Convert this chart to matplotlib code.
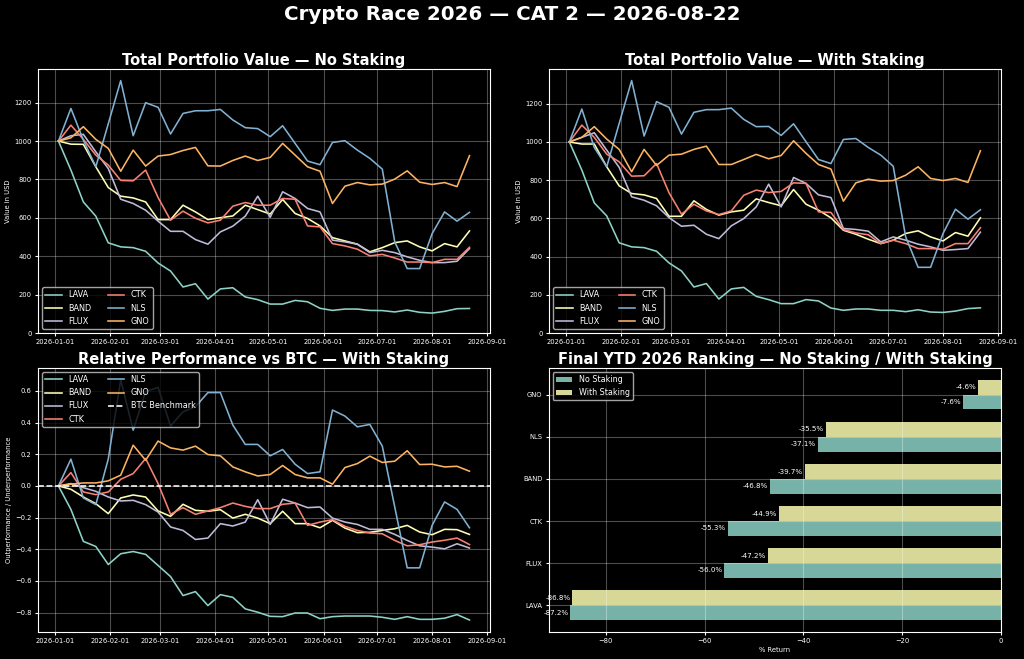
import numpy as np
import pandas as pd
import matplotlib
matplotlib.use("Agg")
import matplotlib.pyplot as plt
import matplotlib.dates as mdates

dates = pd.date_range("2026-01-03", periods=34, freq="7D")
coins = ["LAVA", "BAND", "FLUX", "CTK", "NLS", "GNO"]

# portfolio value, no staking
lava_ns = [1000, 849, 683, 609, 470, 449, 445, 426, 365, 323, 240, 257, 177, 230, 236, 188, 174,
           151, 151, 170, 163, 129, 118, 125, 125, 118, 117, 110, 120, 108, 104, 113, 127, 128]
band_ns = [1000, 984, 983, 866, 758, 713, 704, 683, 591, 591, 666, 631, 591, 601, 610, 666, 643,
           620, 696, 623, 597, 558, 497, 480, 463, 423, 445, 471, 480, 449, 428, 466, 449, 532]
flux_ns = [1000, 1028, 1035, 944, 857, 697, 675, 640, 583, 530, 530, 487, 463, 527, 557, 609, 713,
           603, 736, 701, 649, 631, 484, 475, 463, 419, 431, 419, 397, 379, 367, 367, 374, 440]
ctk_ns = [1000, 1083, 1009, 927, 875, 795, 793, 849, 706, 588, 635, 598, 574, 588, 661, 680, 666,
          666, 701, 697, 558, 553, 466, 454, 437, 402, 410, 391, 370, 370, 367, 384, 384, 447]
nls_ns = [1000, 1170, 1005, 866, 1090, 1315, 1028, 1200, 1176, 1037, 1144, 1158, 1158, 1165, 1110, 1070, 1065,
          1023, 1080, 988, 896, 877, 993, 1002, 953, 910, 854, 475, 336, 336, 518, 631, 583, 629]
gno_ns = [1000, 1017, 1075, 1009, 962, 843, 953, 870, 922, 930, 951, 967, 871, 870, 899, 922, 899,
          915, 988, 927, 866, 843, 675, 765, 784, 772, 776, 802, 845, 786, 774, 784, 763, 924]

# portfolio value, with staking
lava_ws = [1000, 853, 681, 613, 472, 451, 447, 428, 367, 325, 241, 259, 178, 231, 239, 192, 175,
           154, 154, 175, 168, 131, 119, 126, 126, 119, 119, 112, 122, 110, 108, 115, 128, 132]
band_ws = [1000, 989, 989, 870, 770, 730, 723, 704, 611, 611, 692, 647, 617, 634, 643, 702, 683,
           666, 751, 674, 643, 603, 538, 517, 491, 468, 486, 521, 535, 503, 482, 526, 507, 603]
flux_ws = [1000, 1024, 1048, 957, 867, 713, 695, 666, 604, 559, 564, 517, 494, 561, 599, 660, 779,
           660, 814, 783, 723, 709, 547, 542, 533, 477, 503, 486, 465, 451, 433, 437, 442, 528]
ctk_ws = [1000, 1088, 1024, 936, 896, 821, 823, 887, 734, 622, 674, 639, 620, 639, 721, 748, 735,
          741, 786, 783, 634, 631, 542, 524, 514, 468, 486, 468, 442, 442, 439, 468, 468, 551]
nls_ws = [1000, 1172, 971, 870, 1097, 1321, 1031, 1211, 1181, 1041, 1155, 1169, 1169, 1177, 1118, 1080, 1081,
          1034, 1095, 1001, 908, 887, 1013, 1018, 971, 931, 873, 503, 344, 344, 521, 648, 596, 645]
gno_ws = [1000, 1024, 1080, 1015, 961, 844, 961, 877, 931, 936, 961, 978, 882, 882, 908, 935, 912,
          929, 1006, 940, 882, 858, 690, 786, 805, 795, 798, 826, 870, 809, 798, 809, 788, 954]

# relative performance vs BTC (with staking)
lava_rel = [0, -0.148, -0.350, -0.382, -0.496, -0.428, -0.414, -0.432, -0.502, -0.572, -0.692, -0.667,
            -0.755, -0.686, -0.703, -0.776, -0.797, -0.823, -0.825, -0.802, -0.802, -0.838, -0.825,
            -0.821, -0.821, -0.821, -0.829, -0.842, -0.825, -0.842, -0.842, -0.835, -0.812, -0.846]
band_rel = [0, -0.021, -0.070, -0.112, -0.175, -0.076, -0.057, -0.070, -0.158, -0.192, -0.116, -0.154,
            -0.160, -0.150, -0.203, -0.179, -0.203, -0.238, -0.160, -0.238, -0.238, -0.264, -0.217,
            -0.266, -0.295, -0.293, -0.281, -0.270, -0.249, -0.291, -0.308, -0.274, -0.276, -0.306]
flux_rel = [0, 0.015, -0.011, -0.034, -0.070, -0.095, -0.091, -0.118, -0.165, -0.259, -0.281, -0.338,
            -0.329, -0.238, -0.253, -0.228, -0.087, -0.243, -0.084, -0.108, -0.137, -0.133, -0.203,
            -0.228, -0.243, -0.274, -0.274, -0.306, -0.344, -0.378, -0.386, -0.397, -0.365, -0.392]
ctk_rel = [0, 0.084, -0.038, -0.055, -0.038, 0.042, 0.078, 0.173, 0.015, -0.179, -0.137, -0.179,
           -0.158, -0.137, -0.108, -0.129, -0.143, -0.143, -0.116, -0.108, -0.249, -0.228, -0.213,
           -0.255, -0.281, -0.297, -0.302, -0.344, -0.378, -0.371, -0.354, -0.343, -0.329, -0.370]
nls_rel = [0, 0.169, -0.076, -0.118, 0.169, 0.669, 0.352, 0.595, 0.622, 0.378, 0.468, 0.500,
           0.589, 0.589, 0.384, 0.262, 0.262, 0.190, 0.230, 0.137, 0.078, 0.089, 0.479,
           0.441, 0.373, 0.388, 0.251, -0.133, -0.517, -0.517, -0.249, -0.101, -0.148, -0.264]
gno_rel = [0, 0.011, 0.019, 0.019, 0.032, 0.068, 0.257, 0.162, 0.283, 0.240, 0.226, 0.251,
           0.198, 0.190, 0.120, 0.089, 0.063, 0.072, 0.129, 0.072, 0.051, 0.051, 0.011,
           0.116, 0.141, 0.188, 0.148, 0.156, 0.222, 0.135, 0.137, 0.120, 0.124, 0.093]

# final ranking (bottom to top)
rank_coins = ["LAVA", "FLUX", "CTK", "BAND", "NLS", "GNO"]
ret_no_staking = [-87.2, -56.0, -55.3, -46.8, -37.1, -7.6]
ret_with_staking = [-86.8, -47.2, -44.9, -39.7, -35.5, -4.6]

no_staking = [lava_ns, band_ns, flux_ns, ctk_ns, nls_ns, gno_ns]
with_staking = [lava_ws, band_ws, flux_ws, ctk_ws, nls_ws, gno_ws]
relative = [lava_rel, band_rel, flux_rel, ctk_rel, nls_rel, gno_rel]

plt.style.use("dark_background")
TICK = 4.9
TITLE = 10.5
LEG = 5.9

fig, axes = plt.subplots(2, 2, figsize=(10.24, 6.59), dpi=100)
fig.subplots_adjust(left=0.037, right=0.9775, bottom=0.041, top=0.8953, wspace=0.13, hspace=0.132)
fig.suptitle("Crypto Race 2026 — CAT 2 — 2026-08-22", fontsize=14.3, fontweight="bold", y=0.993)

for ax, series, title in [(axes[0, 0], no_staking, "Total Portfolio Value — No Staking"),
                          (axes[0, 1], with_staking, "Total Portfolio Value — With Staking")]:
    for name, vals in zip(coins, series):
        ax.plot(dates, vals, label=name, linewidth=1.15)
    ax.set_ylim(bottom=0)
    ax.set_title(title, fontsize=TITLE, fontweight="bold", pad=3)
    ax.set_ylabel("Value in USD", fontsize=TICK, labelpad=2)
    ax.legend(loc="lower left", ncol=2, fontsize=LEG)

ax = axes[1, 0]
for name, vals in zip(coins, relative):
    ax.plot(dates, vals, label=name, linewidth=1.15)
ax.axhline(0, color="white", linestyle="--", linewidth=1.15, label="BTC Benchmark")
ax.set_title("Relative Performance vs BTC — With Staking", fontsize=TITLE, fontweight="bold", pad=3)
ax.set_ylabel("Outperformance / Underperformance", fontsize=TICK, labelpad=2)
ax.legend(loc="upper left", ncol=2, fontsize=LEG)

for ax in [axes[0, 0], axes[0, 1], axes[1, 0]]:
    ax.xaxis.set_major_locator(mdates.MonthLocator())
    ax.xaxis.set_major_formatter(mdates.DateFormatter("%Y-%m-%d"))
    ax.grid(alpha=0.3)
    ax.tick_params(labelsize=TICK, pad=2, length=2.5)

ax = axes[1, 1]
pos = np.arange(len(rank_coins))
h = 0.35
ax.barh(pos - h / 2, ret_no_staking, height=h, color="#8dd3c7", alpha=0.85, label="No Staking")
ax.barh(pos + h / 2, ret_with_staking, height=h, color="#feffb3", alpha=0.85, label="With Staking")
for p, v in zip(pos, ret_no_staking):
    ax.text(v - 0.4, p - h / 2, f"{v:.1f}%", ha="right", va="center", fontsize=5.1, color="white")
for p, v in zip(pos, ret_with_staking):
    ax.text(v - 0.4, p + h / 2, f"{v:.1f}%", ha="right", va="center", fontsize=5.1, color="white")
ax.set_yticks(pos)
ax.set_yticklabels(rank_coins)
ax.set_xlabel("% Return", fontsize=TICK, labelpad=2)
ax.set_title("Final YTD 2026 Ranking — No Staking / With Staking", fontsize=TITLE, fontweight="bold", pad=3)
ax.legend(loc="upper left", fontsize=5.8)
ax.grid(alpha=0.3)
ax.tick_params(labelsize=TICK, pad=2, length=2.5)

fig.savefig("out.png", dpi=100)
